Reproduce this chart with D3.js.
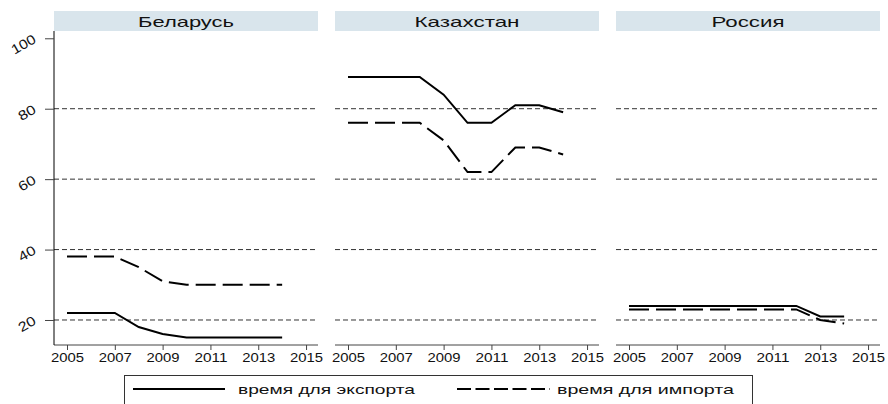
<!DOCTYPE html>
<html>
<head>
<meta charset="utf-8">
<script src="https://cdn.jsdelivr.net/npm/d3@7"></script>
<style>
  html, body { margin: 0; padding: 0; background: #fff; }
  svg { display: block; font-family: "Liberation Sans", Arial, sans-serif; }
</style>
</head>
<body>
<svg id="chart" width="888" height="404"></svg>
<script>
const countries = ["Беларусь", "Казахстан", "Россия"];
const years = [2005, 2006, 2007, 2008, 2009, 2010, 2011, 2012, 2013, 2014];
const exportBelarus = [22, 22, 22, 18, 16, 15, 15, 15, 15, 15];
const importBelarus = [38, 38, 38, 35, 31, 30, 30, 30, 30, 30];
const exportKazakhstan = [89, 89, 89, 89, 84, 76, 76, 81, 81, 79];
const importKazakhstan = [76, 76, 76, 76, 71, 62, 62, 69, 69, 67];
const exportRussia = [24, 24, 24, 24, 24, 24, 24, 24, 21, 21];
const importRussia = [23, 23, 23, 23, 23, 23, 23, 23, 20, 19];
const xTicks = [2005, 2007, 2009, 2011, 2013, 2015];
const yTicks = [20, 40, 60, 80, 100];
const gridValues = [20, 40, 60, 80];
const seriesNames = ["время для экспорта", "время для импорта"];

const exportData = [exportBelarus, exportKazakhstan, exportRussia];
const importData = [importBelarus, importKazakhstan, importRussia];

const svg = d3.select("#chart");
const panelLefts = [54, 335, 616];
const panelWidth = 264;
const headerTop = 11, headerBottom = 31;
const plotBottom = 345;
const headerWidths = [96, 105, 73];

const y = d3.scaleLinear().domain([12.9, 102.07]).range([plotBottom, headerBottom]);

countries.forEach((name, i) => {
  const left = panelLefts[i];
  const x = d3.scaleLinear().domain([2004.456, 2015.5]).range([left, left + panelWidth]);
  const g = svg.append("g");

  // header strip
  g.append("rect")
    .attr("x", left).attr("y", headerTop)
    .attr("width", panelWidth).attr("height", headerBottom - headerTop)
    .attr("fill", "#d9e5ec");
  g.append("text")
    .attr("x", left + panelWidth / 2).attr("y", headerTop + 15.5)
    .attr("text-anchor", "middle")
    .attr("font-size", 15)
    .attr("fill", "#111")
    .attr("textLength", headerWidths[i])
    .attr("lengthAdjust", "spacingAndGlyphs")
    .text(name);

  // gridlines
  g.selectAll("line.grid").data(gridValues).enter().append("line")
    .attr("x1", left).attr("x2", left + panelWidth)
    .attr("y1", d => y(d)).attr("y2", d => y(d))
    .attr("stroke", "#333").attr("stroke-width", 1)
    .attr("stroke-dasharray", "5,3");

  // x axis
  const xAxis = d3.axisBottom(x).tickValues(xTicks).tickFormat(d3.format("d")).tickSize(5).tickPadding(3);
  const ax = g.append("g").attr("transform", `translate(0,${plotBottom})`).call(xAxis);
  ax.select(".domain").attr("stroke", "#444").attr("d", `M${left},0H${left + panelWidth}`);
  ax.selectAll(".tick line").attr("stroke", "#444");
  ax.selectAll(".tick text").attr("font-size", 12.5).attr("fill", "#111")
    .attr("font-family", "'Liberation Sans', Arial, sans-serif")
    .attr("textLength", 33)
    .attr("lengthAdjust", "spacingAndGlyphs");

  // y axis only on first panel
  if (i === 0) {
    const yAxis = d3.axisLeft(y).tickValues(yTicks).tickSize(9).tickFormat(d3.format("d"));
    const ay = g.append("g").attr("transform", `translate(${left},0)`).call(yAxis);
    ay.select(".domain").attr("stroke", "#000").attr("d", `M0,${headerBottom}V${plotBottom}`);
    ay.selectAll(".tick line").attr("stroke", "#444");
    ay.selectAll(".tick text")
      .attr("font-size", 13.5).attr("fill", "#111")
      .attr("font-family", "'Liberation Sans', Arial, sans-serif")
      .attr("x", null).attr("dy", null)
      .attr("text-anchor", "end")
      .attr("textLength", d => d === 100 ? 26 : 18)
      .attr("lengthAdjust", "spacingAndGlyphs")
      .attr("transform", "translate(-17,3) rotate(-30)");
  }

  const line = d3.line().x((d, k) => x(years[k])).y(d => y(d));

  g.append("path").datum(exportData[i])
    .attr("d", line).attr("fill", "none")
    .attr("stroke", "#000").attr("stroke-width", 2);
  g.append("path").datum(importData[i])
    .attr("d", line).attr("fill", "none")
    .attr("stroke", "#000").attr("stroke-width", 2)
    .attr("stroke-dasharray", "20,7");
});

// legend
const lg = svg.append("g");
lg.append("rect")
  .attr("x", 124.5).attr("y", 375.5).attr("width", 628).attr("height", 40)
  .attr("fill", "#fff").attr("stroke", "#333").attr("stroke-width", 1);
const legendItems = [
  { x1: 133, x2: 225, tx: 238, dash: null },
  { x1: 457, x2: 550, tx: 557, dash: "14,4.5" }
];
legendItems.forEach((it, k) => {
  lg.append("line")
    .attr("x1", it.x1).attr("x2", it.x2).attr("y1", 389).attr("y2", 389)
    .attr("stroke", "#000").attr("stroke-width", 2)
    .attr("stroke-dasharray", it.dash);
  lg.append("text")
    .attr("x", it.tx).attr("y", 394)
    .attr("font-size", 13.5).attr("fill", "#111")
    .attr("textLength", 177)
    .attr("lengthAdjust", "spacingAndGlyphs")
    .text(seriesNames[k]);
});
</script>
</body>
</html>
